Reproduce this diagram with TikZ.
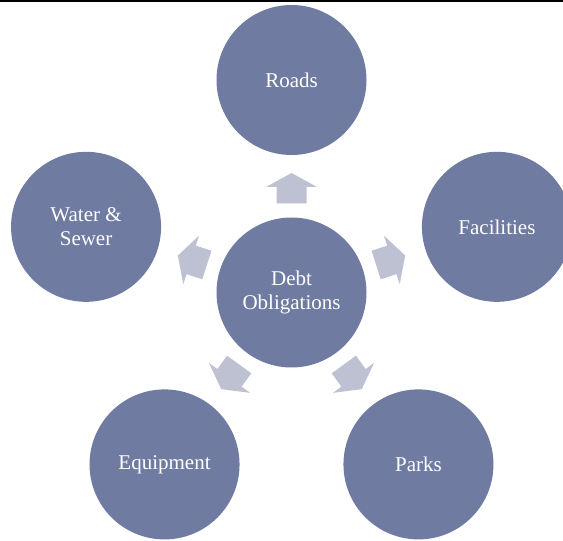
\documentclass[tikz,border=0pt]{standalone}
\usepackage{fontspec}
\setmainfont{Liberation Serif}
\definecolor{bubblefill}{RGB}{111,123,161}
\definecolor{arrowfill}{RGB}{189,193,210}
\tikzset{
	bubble/.style={circle,fill=bubblefill,minimum size=150pt,inner sep=0pt,text=white,align=center,font=\fontsize{21}{23.5}\selectfont},
}
\begin{document}
\begin{tikzpicture}[x=1pt,y=1pt]
			\useasboundingbox (0,0) rectangle (563,541);
			\fill (0,538.5) rectangle (563,541);

			\node[bubble] (hub) at (291.5,248.5) {Debt\\Obligations};
			\node[bubble] (roads)      at ([shift={(90:216 and 212.5)}]hub)   {Roads};
			\node[bubble] (facilities) at ([shift={(18:216 and 212.5)}]hub)   {Facilities};
			\node[bubble] (parks)      at ([shift={(-54:216 and 212.5)}]hub)  {Parks};
			\node[bubble] (equipment)  at ([shift={(-126:216 and 212.5)}]hub) {Equipment};
			\node[bubble] (water)      at ([shift={(162:216 and 212.5)}]hub)  {Water \&\\Sewer};

			\foreach \a in {90,18,-54,-126,162}
				\fill[arrowfill,shift={(hub.center)},rotate=\a] (89,-15) -- (105.5,-15) -- (105.5,-25.5) -- (119.5,0) -- (105.5,25.5) -- (105.5,15) -- (89,15) -- cycle;
		\end{tikzpicture}
\end{document}
